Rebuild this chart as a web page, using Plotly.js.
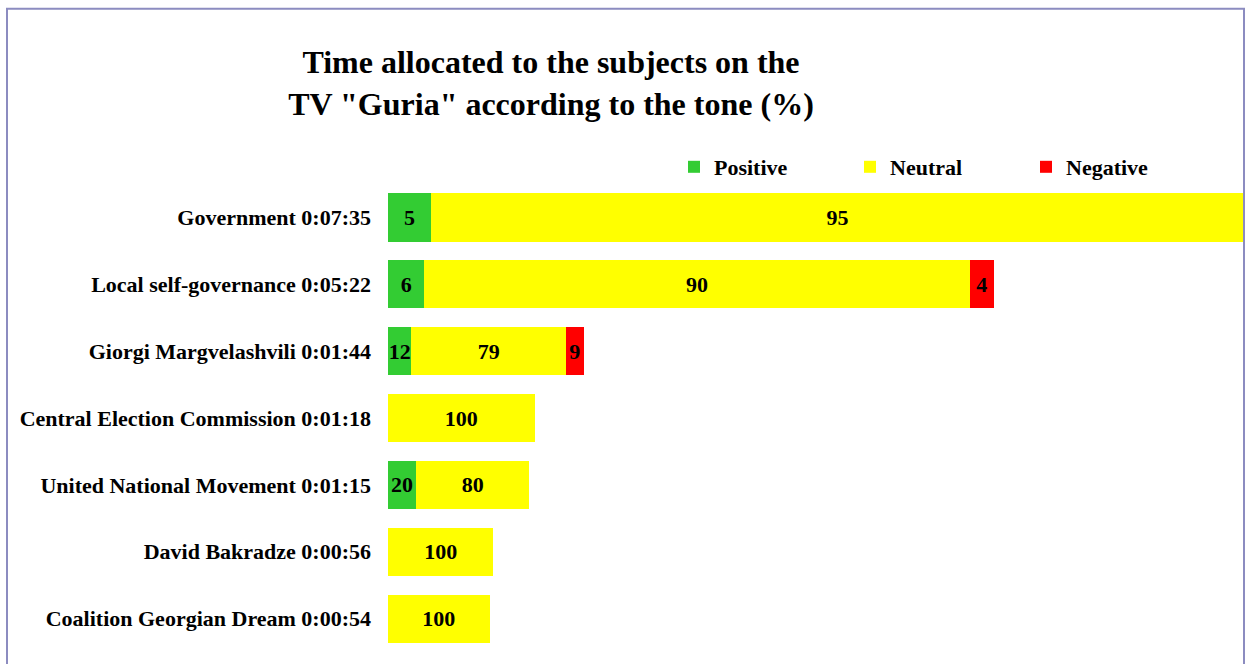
<!DOCTYPE html>
<html>
<head>
<meta charset="utf-8">
<script src="https://cdn.plot.ly/plotly-3.0.1.min.js"></script>
<style>
html,body{margin:0;padding:0;background:#fff;}
#chart{width:1248px;height:664px;}
</style>
</head>
<body>
<div id="chart"></div>
<script>
const subjects = ["Government", "Local self-governance", "Giorgi Margvelashvili", "Central Election Commission", "United National Movement", "David Bakradze", "Coalition Georgian Dream"];
const durations = ["0:07:35", "0:05:22", "0:01:44", "0:01:18", "0:01:15", "0:00:56", "0:00:54"];
const positive = [5, 6, 12, 0, 20, 0, 0];
const neutral = [95, 90, 79, 100, 80, 100, 100];
const negative = [0, 4, 9, 0, 0, 0, 0];
const seriesNames = ["Positive", "Neutral", "Negative"];
const seriesColors = ["#33cc33", "#ffff00", "#ff0000"];

function toSeconds(t) {
  const p = t.split(":").map(Number);
  return p[0] * 3600 + p[1] * 60 + p[2];
}
const seconds = durations.map(toSeconds);
const labels = subjects.map((s, i) => s + " " + durations[i]);
const maxSec = Math.max(...seconds);

const FONT = "Liberation Serif, Times New Roman, serif";
const seriesVals = [positive, neutral, negative];

const traces = seriesVals.map((vals, k) => ({
  type: "bar",
  orientation: "h",
  name: seriesNames[k],
  y: labels,
  x: vals.map((v, i) => seconds[i] * v / 100),
  text: vals.map(v => v ? String(v) : ""),
  textposition: "inside",
  insidetextanchor: "middle",
  constraintext: "none",
  textangle: 0,
  textfont: {family: FONT, size: 22, color: "#000", weight: "bold"},
  marker: {color: seriesColors[k], line: {width: 0}},
  hoverinfo: "skip"
}));

// plot area pixel geometry
const L = 388, R = 1244, T = 183.5, B = 652.5, W = 1248, H = 664;
const px = x => (x - L) / (R - L);
const py = y => (B - y) / (B - T);

const layout = {
  width: W, height: H,
  margin: {l: L, r: W - R, t: T, b: H - B, pad: 0, autoexpand: false},
  paper_bgcolor: "#fff",
  plot_bgcolor: "#fff",
  barmode: "stack",
  bargap: 0.28,
  font: {family: FONT, color: "#000"},
  title: {
    text: "Time allocated to the subjects on the<br>TV \"Guria\" according to the tone (%)",
    font: {family: FONT, size: 32, color: "#000", weight: "bold"},
    xref: "paper", x: px(551), xanchor: "center",
    yref: "container", y: 1 - 73 / H, yanchor: "middle"
  },
  showlegend: true,
  legend: {
    orientation: "h",
    xref: "paper", x: px(674), xanchor: "left",
    yref: "container", y: 1 - 167 / H, yanchor: "middle",
    font: {family: FONT, size: 22, color: "#000", weight: "bold"},
    entrywidth: 131, entrywidthmode: "pixels",
    traceorder: "normal",
    bgcolor: "rgba(0,0,0,0)"
  },
  xaxis: {
    range: [0, maxSec], visible: false, fixedrange: true
  },
  yaxis: {
    autorange: "reversed",
    showgrid: false, zeroline: false, showline: false, ticks: "",
    ticklabelstandoff: 16,
    tickfont: {family: FONT, size: 22, color: "#000", weight: "bold"},
    fixedrange: true
  },
  shapes: [{
    type: "rect", xref: "paper", yref: "paper",
    x0: px(7), x1: px(1244), y0: py(700), y1: py(8),
    line: {color: "#8c8cc0", width: 2}, fillcolor: "rgba(0,0,0,0)", layer: "above"
  }]
};

Plotly.newPlot("chart", traces, layout, {displayModeBar: false, staticPlot: true});
</script>
</body>
</html>
